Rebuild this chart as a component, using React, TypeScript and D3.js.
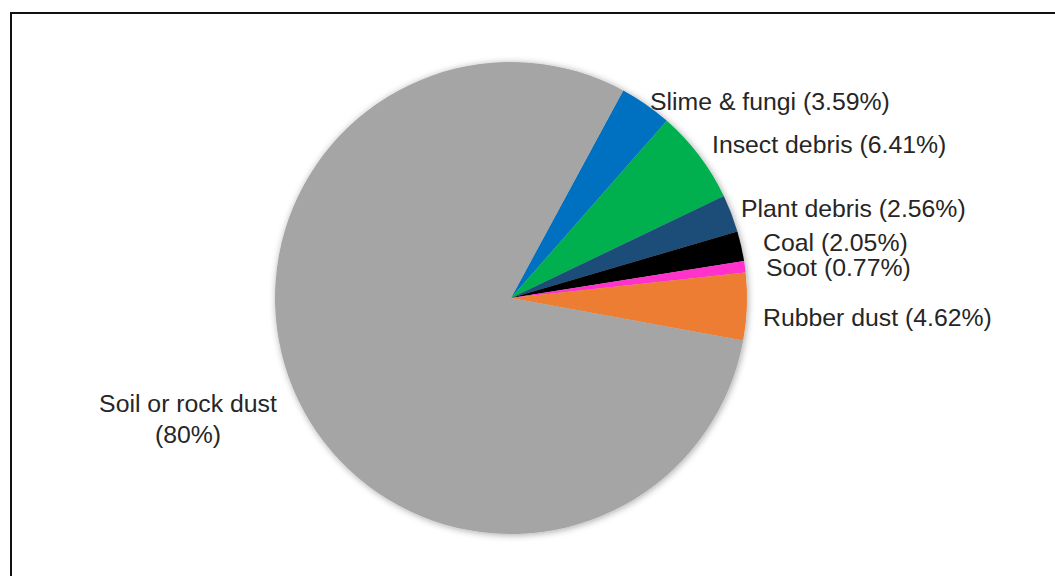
import React, { useEffect, useRef } from 'react';
import * as d3 from 'd3';

// slice order clockwise, starting at the Slime & fungi edge
const categories = ['Slime & fungi', 'Insect debris', 'Plant debris', 'Coal', 'Soot', 'Rubber dust', 'Soil or rock dust'];
const values = [3.59, 6.41, 2.56, 2.05, 0.77, 4.62, 80];
const valueLabels = ['3.59%', '6.41%', '2.56%', '2.05%', '0.77%', '4.62%', '80%'];
const colors = ['#0070C0', '#00B050', '#1F4E79', '#000000', '#FF33CC', '#ED7D31', '#A5A5A5'];

// label anchor points (x, baseline y)
const labelPos: [number, number, string][] = [
  [650, 110, 'start'],
  [712, 153, 'start'],
  [741, 217, 'start'],
  [763, 251, 'start'],
  [766, 276, 'start'],
  [763, 326, 'start'],
  [188, 412, 'middle'],
];

const App = () => {
  const ref = useRef<SVGSVGElement>(null);

  useEffect(() => {
    const width = 1055;
    const height = 576;
    const cx = 511;
    const cy = 298;
    const r = 236;

    const svg = d3.select(ref.current)
      .attr('width', width)
      .attr('height', height);
    svg.selectAll('*').remove();

    const defs = svg.append('defs');
    const f = defs.append('filter').attr('id', 'shadow')
      .attr('x', '-10%').attr('y', '-10%').attr('width', '120%').attr('height', '120%');
    f.append('feDropShadow')
      .attr('dx', 1).attr('dy', 1).attr('stdDeviation', 3.5)
      .attr('flood-color', '#000').attr('flood-opacity', 0.35);

    svg.append('rect')
      .attr('width', width).attr('height', height).attr('fill', 'white');

    // frame
    svg.append('path')
      .attr('d', `M11,${height} V13 H${width}`)
      .attr('fill', 'none')
      .attr('stroke', '#111')
      .attr('stroke-width', 2);

    const startAngle = 28.4 * Math.PI / 180;
    const pie = d3.pie<number>()
      .sort(null)
      .startAngle(startAngle)
      .endAngle(startAngle + 2 * Math.PI);
    const arcs = pie(values);
    const arc = d3.arc<d3.PieArcDatum<number>>().innerRadius(0).outerRadius(r);

    const g = svg.append('g')
      .attr('transform', `translate(${cx},${cy})`)
      .attr('filter', 'url(#shadow)');

    g.selectAll('path')
      .data(arcs)
      .enter().append('path')
      .attr('d', arc)
      .attr('fill', (d, i) => colors[i]);

    const labels = svg.append('g')
      .attr('font-family', '"Liberation Sans", Arial, sans-serif')
      .attr('font-size', 24.8)
      .attr('fill', '#262626');

    categories.forEach((c, i) => {
      const [x, y, anchor] = labelPos[i];
      const t = labels.append('text')
        .attr('x', x).attr('y', y)
        .attr('text-anchor', anchor);
      if (i === categories.length - 1) {
        t.append('tspan').attr('x', x).text(c);
        t.append('tspan').attr('x', x).attr('dy', 31).text(`(${valueLabels[i]})`);
      } else {
        t.text(`${c} (${valueLabels[i]})`);
      }
    });
  }, []);

  return (
    <div style={{ position: 'fixed', left: 0, top: 0 }}>
      <svg ref={ref}></svg>
    </div>
  );
};

export default App;
